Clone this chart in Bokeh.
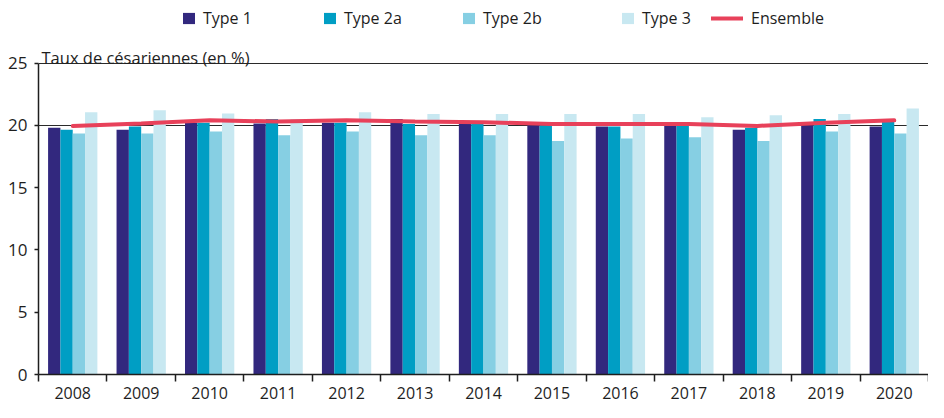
from bokeh.plotting import figure
from bokeh.models import (ColumnDataSource, FixedTicker, Legend, LegendItem,
                          Label, NumeralTickFormatter, Range1d)
from bokeh.transform import dodge
from bokeh.embed import file_html
from bokeh.resources import INLINE

years = [2008, 2009, 2010, 2011, 2012, 2013, 2014, 2015, 2016, 2017, 2018, 2019, 2020]
type1 = [19.8, 19.65, 20.2, 20.15, 20.2, 20.5, 20.1, 20.0, 19.9, 20.0, 19.65, 20.0, 19.9]
type2a = [19.65, 19.9, 20.2, 20.5, 20.2, 20.1, 20.1, 20.0, 19.9, 20.0, 19.8, 20.5, 20.4]
type2b = [19.35, 19.35, 19.5, 19.2, 19.5, 19.2, 19.2, 18.75, 18.95, 19.05, 18.75, 19.5, 19.35]
type3 = [21.05, 21.2, 20.95, 20.5, 21.05, 20.9, 20.9, 20.9, 20.9, 20.65, 20.8, 20.9, 21.35]
ensemble = [19.95, 20.15, 20.4, 20.3, 20.4, 20.3, 20.25, 20.1, 20.1, 20.1, 19.95, 20.2, 20.4]

series_names = ["Type 1", "Type 2a", "Type 2b", "Type 3"]
series_keys = ["type1", "type2a", "type2b", "type3"]
colors = ["#32287e", "#009ec4", "#86cfe3", "#c8e8f1"]
line_color = "#e8415a"
y_ticks = [0, 5, 10, 15, 20, 25]
y_max_tick = 25

FONT = "Open Sans"
TXT = "#1e1e1e"

src = ColumnDataSource(dict(year=years, type1=type1, type2a=type2a,
                            type2b=type2b, type3=type3, ensemble=ensemble))

FIG_W, FIG_H = 928, 402
BORDER_L = 38
BORDER_B = 28
FRAME_H = FIG_H - BORDER_B
TOP_GAP = 62.5  # px from frame top to the 25 line
scale = (FRAME_H - TOP_GAP) / y_max_tick
y_top = y_max_tick + TOP_GAP / scale

p = figure(width=FIG_W, height=FIG_H, output_backend="svg", toolbar_location=None,
           x_range=Range1d(years[0] - 0.5, years[-1] + 0.5),
           y_range=Range1d(0, y_top), title=None,
           min_border_left=BORDER_L, min_border_right=0, min_border_top=0,
           min_border_bottom=BORDER_B)
p.outline_line_color = None
p.background_fill_color = "white"
p.border_fill_color = "white"

bw = 0.18
offsets = [-1.5 * bw, -0.5 * bw, 0.5 * bw, 1.5 * bw]
renderers = []
for key, col, off in zip(series_keys, colors, offsets):
    r = p.vbar(x=dodge("year", off, range=p.x_range), top=key, width=bw,
               source=src, fill_color=col, line_color=None)
    renderers.append(r)

lr = p.line(x="year", y="ensemble", source=src, line_color=line_color,
            line_width=4, line_cap="round")

p.xaxis.ticker = FixedTicker(ticks=years,
                             minor_ticks=[y - 0.5 for y in years] + [years[-1] + 0.5])
p.xaxis.formatter = NumeralTickFormatter(format="0")
p.xaxis.major_tick_line_color = None
p.xaxis.major_tick_out = 0
p.xaxis.major_tick_in = 0
p.xaxis.minor_tick_out = 7
p.xaxis.minor_tick_in = 0
p.xaxis.minor_tick_line_color = TXT
p.xaxis.minor_tick_line_width = 1.5
p.xaxis.axis_line_color = TXT
p.xaxis.axis_line_width = 1.5
p.xaxis.major_label_text_font = FONT
p.xaxis.major_label_text_font_size = "16px"
p.xaxis.major_label_text_color = TXT
p.xaxis.major_label_standoff = 5

p.yaxis.ticker = FixedTicker(ticks=y_ticks)
p.yaxis.bounds = (0, y_max_tick)
p.yaxis.minor_tick_line_color = None
p.yaxis.major_tick_out = 4
p.yaxis.major_tick_in = 0
p.yaxis.major_tick_line_color = TXT
p.yaxis.major_tick_line_width = 1.5
p.yaxis.axis_line_color = TXT
p.yaxis.axis_line_width = 1.5
p.yaxis.major_label_text_font = FONT
p.yaxis.major_label_text_font_size = "17px"
p.yaxis.major_label_text_color = TXT
p.yaxis.major_label_standoff = 7

p.xgrid.grid_line_color = None
p.ygrid.ticker = FixedTicker(ticks=[20, 25])
p.ygrid.grid_line_color = "#2a2a2a"
p.ygrid.grid_line_width = 1.2

p.add_layout(Label(x=years[0] - 0.5, y=y_max_tick, x_offset=3, y_offset=6,
                   text="Taux de césariennes (en %)", text_font=FONT,
                   text_font_size="16.5px", text_color=TXT,
                   text_baseline="alphabetic", text_align="left"))

LEG_Y = FRAME_H - 29
legend_x = [143, 284, 423, 582]
for name, r, lx in zip(series_names, renderers, legend_x):
    lg = Legend(items=[LegendItem(label=name, renderers=[r])], location=(lx, LEG_Y),
                glyph_width=15, glyph_height=14, label_standoff=7,
                padding=0, margin=0, border_line_color=None,
                background_fill_alpha=0, label_text_font=FONT,
                label_text_font_size="16px", label_text_color=TXT,
                label_height=16)
    p.add_layout(lg)

lg = Legend(items=[LegendItem(label="Ensemble", renderers=[lr])], location=(673, LEG_Y),
            glyph_width=32, glyph_height=14, label_standoff=8,
            padding=0, margin=0, border_line_color=None,
            background_fill_alpha=0, label_text_font=FONT,
            label_text_font_size="16px", label_text_color=TXT,
            label_height=16)
p.add_layout(lg)

open("out.html", "w").write(file_html(p, INLINE))
